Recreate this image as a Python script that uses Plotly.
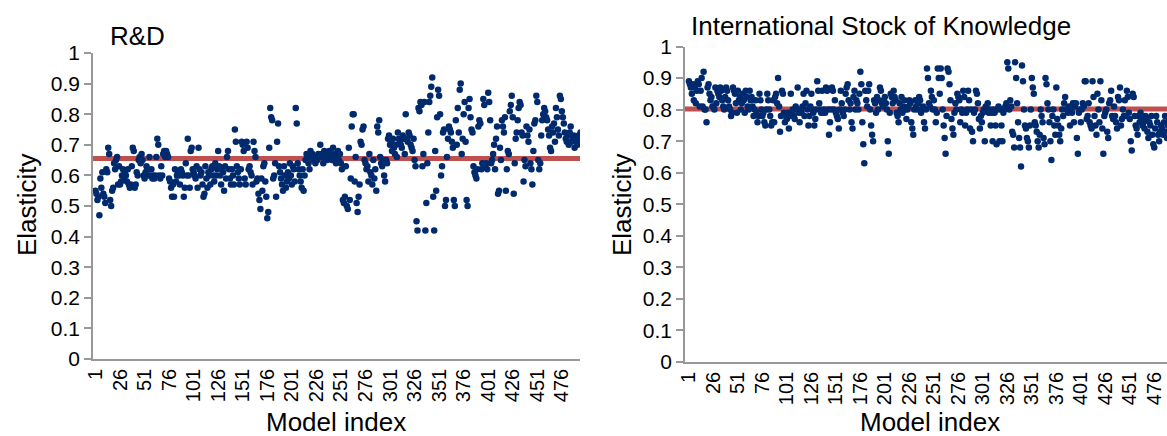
import plotly.graph_objects as go

# ---------------- data ----------------
rd_elasticity = [
    0.55, 0.54, 0.52, 0.53, 0.47, 0.59, 0.56, 0.61, 0.54, 0.53, 0.51, 0.62, 0.61, 0.69, 0.67, 0.52, 0.50, 0.55, 0.56, 0.64, 0.62, 0.65, 0.66, 0.57, 0.63,
    0.57, 0.58, 0.60, 0.62, 0.59, 0.61, 0.60, 0.58, 0.62, 0.57, 0.56, 0.57, 0.63, 0.69, 0.68, 0.56, 0.57, 0.61, 0.60, 0.65, 0.66, 0.64, 0.67, 0.65, 0.60,
    0.59, 0.61, 0.63, 0.62, 0.60, 0.66, 0.60, 0.62, 0.59, 0.60, 0.59, 0.60, 0.66, 0.72, 0.70, 0.60, 0.59, 0.63, 0.60, 0.67, 0.68, 0.66, 0.68, 0.67, 0.66,
    0.59, 0.58, 0.56, 0.53, 0.57, 0.53, 0.62, 0.58, 0.60, 0.61, 0.60, 0.57, 0.62, 0.61, 0.60, 0.53, 0.56, 0.64, 0.60, 0.72, 0.60, 0.56, 0.68, 0.69, 0.62,
    0.61, 0.60, 0.59, 0.63, 0.56, 0.69, 0.62, 0.60, 0.61, 0.57, 0.53, 0.54, 0.63, 0.59, 0.56, 0.61, 0.60, 0.57, 0.62, 0.63, 0.60, 0.58, 0.64, 0.60, 0.62,
    0.68, 0.63, 0.60, 0.57, 0.62, 0.61, 0.55, 0.63, 0.59, 0.66, 0.68, 0.62, 0.59, 0.57, 0.62, 0.60, 0.57, 0.75, 0.71, 0.63, 0.61, 0.59, 0.57, 0.62, 0.71,
    0.70, 0.68, 0.59, 0.57, 0.71, 0.69, 0.62, 0.63, 0.61, 0.60, 0.57, 0.71, 0.68, 0.66, 0.58, 0.59, 0.54, 0.52, 0.49, 0.59, 0.55, 0.63, 0.64, 0.58, 0.53,
    0.46, 0.48, 0.69, 0.82, 0.79, 0.78, 0.59, 0.60, 0.64, 0.53, 0.71, 0.77, 0.63, 0.61, 0.59, 0.57, 0.55, 0.63, 0.60, 0.56, 0.58, 0.61, 0.59, 0.64, 0.60,
    0.57, 0.63, 0.62, 0.58, 0.82, 0.77, 0.64, 0.62, 0.60, 0.58, 0.56, 0.62, 0.55, 0.60, 0.65, 0.67, 0.66, 0.64, 0.62, 0.68, 0.66, 0.67, 0.65, 0.66, 0.64,
    0.66, 0.65, 0.67, 0.66, 0.70, 0.67, 0.66, 0.64, 0.68, 0.66, 0.67, 0.65, 0.66, 0.68, 0.66, 0.67, 0.65, 0.69, 0.66, 0.67, 0.64, 0.66, 0.68, 0.65, 0.67,
    0.64, 0.62, 0.52, 0.51, 0.53, 0.63, 0.50, 0.49, 0.69, 0.52, 0.59, 0.76, 0.80, 0.80, 0.58, 0.66, 0.51, 0.48, 0.53, 0.57, 0.71, 0.70, 0.75, 0.76, 0.65,
    0.64, 0.62, 0.63, 0.58, 0.67, 0.61, 0.60, 0.57, 0.65, 0.59, 0.62, 0.55, 0.76, 0.74, 0.78, 0.66, 0.64, 0.63, 0.65, 0.60, 0.58, 0.65, 0.64, 0.72, 0.73,
    0.70, 0.71, 0.68, 0.72, 0.69, 0.67, 0.70, 0.66, 0.74, 0.72, 0.71, 0.70, 0.69, 0.73, 0.72, 0.67, 0.80, 0.72, 0.71, 0.74, 0.73, 0.70, 0.69, 0.68, 0.72,
    0.65, 0.63, 0.45, 0.42, 0.82, 0.81, 0.84, 0.83, 0.63, 0.67, 0.84, 0.42, 0.51, 0.64, 0.74, 0.84, 0.86, 0.89, 0.92, 0.53, 0.42, 0.68, 0.55, 0.79, 0.88,
    0.86, 0.80, 0.60, 0.63, 0.74, 0.75, 0.50, 0.52, 0.66, 0.72, 0.76, 0.75, 0.74, 0.71, 0.69, 0.52, 0.50, 0.78, 0.70, 0.82, 0.74, 0.88, 0.90, 0.67, 0.72,
    0.80, 0.84, 0.71, 0.52, 0.50, 0.82, 0.85, 0.79, 0.75, 0.74, 0.63, 0.61, 0.60, 0.59, 0.62, 0.76, 0.78, 0.77, 0.62, 0.64, 0.85, 0.83, 0.63, 0.64, 0.62,
    0.87, 0.84, 0.78, 0.64, 0.65, 0.67, 0.70, 0.62, 0.72, 0.76, 0.54, 0.55, 0.69, 0.65, 0.78, 0.76, 0.74, 0.79, 0.55, 0.62, 0.68, 0.67, 0.81, 0.83, 0.86,
    0.79, 0.54, 0.64, 0.72, 0.74, 0.78, 0.82, 0.84, 0.83, 0.74, 0.73, 0.58, 0.65, 0.63, 0.76, 0.73, 0.71, 0.75, 0.64, 0.62, 0.57, 0.68, 0.77, 0.78, 0.86,
    0.84, 0.65, 0.62, 0.64, 0.73, 0.78, 0.80, 0.82, 0.81, 0.79, 0.78, 0.75, 0.73, 0.69, 0.68, 0.76, 0.74, 0.77, 0.71, 0.82, 0.79, 0.75, 0.73, 0.86, 0.85,
    0.81, 0.79, 0.77, 0.74, 0.72, 0.71, 0.73, 0.70, 0.74, 0.76, 0.71, 0.72, 0.73, 0.69, 0.72, 0.71, 0.70, 0.73, 0.72, 0.74,
]

isk_elasticity = [
    0.89, 0.88, 0.87, 0.85, 0.88, 0.83, 0.87, 0.82, 0.86, 0.89, 0.88, 0.81, 0.86, 0.90, 0.81, 0.92, 0.80, 0.80, 0.76, 0.87, 0.88, 0.85, 0.83, 0.84, 0.81,
    0.81, 0.80, 0.87, 0.82, 0.86, 0.85, 0.84, 0.87, 0.86, 0.83, 0.81, 0.80, 0.84, 0.87, 0.86, 0.83, 0.81, 0.80, 0.78, 0.79, 0.87, 0.86, 0.85, 0.82, 0.79,
    0.86, 0.83, 0.84, 0.80, 0.82, 0.85, 0.83, 0.79, 0.86, 0.84, 0.81, 0.80, 0.86, 0.83, 0.84, 0.81, 0.78, 0.80, 0.83, 0.79, 0.76, 0.78, 0.85, 0.83, 0.80,
    0.78, 0.79, 0.76, 0.75, 0.80, 0.85, 0.83, 0.80, 0.78, 0.75, 0.76, 0.83, 0.76, 0.84, 0.85, 0.82, 0.90, 0.81, 0.73, 0.78, 0.86, 0.85, 0.79, 0.76, 0.78,
    0.77, 0.79, 0.74, 0.78, 0.85, 0.79, 0.80, 0.78, 0.77, 0.81, 0.80, 0.87, 0.79, 0.76, 0.80, 0.79, 0.81, 0.85, 0.78, 0.82, 0.86, 0.80, 0.75, 0.78, 0.81,
    0.85, 0.80, 0.79, 0.75, 0.77, 0.80, 0.89, 0.86, 0.82, 0.80, 0.79, 0.86, 0.79, 0.80, 0.79, 0.87, 0.86, 0.80, 0.72, 0.76, 0.80, 0.87, 0.86, 0.80, 0.83,
    0.79, 0.78, 0.77, 0.74, 0.80, 0.86, 0.82, 0.79, 0.78, 0.80, 0.85, 0.87, 0.88, 0.83, 0.80, 0.82, 0.76, 0.74, 0.84, 0.86, 0.80, 0.83, 0.82, 0.80, 0.85,
    0.92, 0.88, 0.76, 0.69, 0.63, 0.86, 0.83, 0.81, 0.86, 0.88, 0.80, 0.75, 0.72, 0.70, 0.83, 0.82, 0.79, 0.84, 0.80, 0.83, 0.87, 0.86, 0.82, 0.81, 0.83,
    0.84, 0.82, 0.80, 0.70, 0.66, 0.79, 0.85, 0.84, 0.82, 0.86, 0.84, 0.83, 0.79, 0.78, 0.76, 0.82, 0.80, 0.84, 0.79, 0.81, 0.83, 0.80, 0.77, 0.80, 0.81,
    0.83, 0.82, 0.76, 0.74, 0.72, 0.80, 0.83, 0.81, 0.80, 0.82, 0.84, 0.83, 0.79, 0.80, 0.81, 0.76, 0.74, 0.80, 0.93, 0.90, 0.82, 0.81, 0.86, 0.84, 0.80,
    0.83, 0.80, 0.76, 0.79, 0.93, 0.90, 0.85, 0.93, 0.90, 0.80, 0.75, 0.71, 0.66, 0.78, 0.93, 0.92, 0.88, 0.83, 0.77, 0.74, 0.72, 0.79, 0.82, 0.80, 0.85,
    0.84, 0.83, 0.76, 0.80, 0.79, 0.86, 0.84, 0.75, 0.79, 0.80, 0.86, 0.83, 0.74, 0.80, 0.73, 0.70, 0.79, 0.80, 0.86, 0.85, 0.82, 0.77, 0.74, 0.78, 0.76,
    0.79, 0.80, 0.70, 0.81, 0.80, 0.82, 0.79, 0.80, 0.75, 0.79, 0.70, 0.80, 0.79, 0.75, 0.69, 0.80, 0.81, 0.70, 0.80, 0.75, 0.70, 0.79, 0.80, 0.81, 0.82,
    0.95, 0.93, 0.80, 0.83, 0.81, 0.73, 0.72, 0.68, 0.95, 0.90, 0.82, 0.76, 0.71, 0.68, 0.62, 0.94, 0.89, 0.80, 0.75, 0.74, 0.71, 0.70, 0.68, 0.75, 0.80,
    0.90, 0.87, 0.85, 0.76, 0.75, 0.73, 0.70, 0.68, 0.72, 0.80, 0.78, 0.76, 0.71, 0.69, 0.90, 0.88, 0.82, 0.80, 0.76, 0.70, 0.64, 0.78, 0.80, 0.75, 0.72,
    0.87, 0.77, 0.75, 0.72, 0.70, 0.74, 0.80, 0.78, 0.82, 0.84, 0.80, 0.80, 0.79, 0.81, 0.75, 0.80, 0.79, 0.82, 0.76, 0.81, 0.82, 0.71, 0.66, 0.79, 0.80,
    0.76, 0.80, 0.82, 0.81, 0.89, 0.89, 0.77, 0.78, 0.82, 0.76, 0.75, 0.74, 0.89, 0.84, 0.78, 0.75, 0.72, 0.85, 0.80, 0.76, 0.89, 0.83, 0.74, 0.66, 0.78,
    0.79, 0.80, 0.73, 0.71, 0.82, 0.83, 0.86, 0.78, 0.77, 0.81, 0.78, 0.76, 0.74, 0.84, 0.83, 0.87, 0.75, 0.77, 0.80, 0.78, 0.83, 0.78, 0.86, 0.84, 0.79,
    0.77, 0.70, 0.67, 0.85, 0.84, 0.78, 0.75, 0.74, 0.72, 0.78, 0.76, 0.79, 0.77, 0.75, 0.76, 0.74, 0.78, 0.77, 0.73, 0.71, 0.76, 0.75, 0.78, 0.72, 0.69,
    0.68, 0.74, 0.78, 0.76, 0.72, 0.70, 0.73, 0.75, 0.74, 0.72, 0.76, 0.78, 0.73, 0.71, 0.75, 0.77, 0.74, 0.72, 0.76, 0.73,
]

rd_mean = 0.655
isk_mean = 0.802

model_index_rd = list(range(1, len(rd_elasticity) + 1))
model_index_isk = list(range(1, len(isk_elasticity) + 1))

x_tick_vals = list(range(1, 477, 25))
x_tick_text = [str(v) for v in x_tick_vals]
y_tick_vals = [0, 0.1, 0.2, 0.3, 0.4, 0.5, 0.6, 0.7, 0.8, 0.9, 1]
y_tick_text = ["0", "0.1", "0.2", "0.3", "0.4", "0.5", "0.6", "0.7", "0.8", "0.9", "1"]

panel_titles = ["R&D", "International Stock of Knowledge"]

# ---------------- figure ----------------
W, H = 1167, 436
FONT = "Liberation Sans, Arial, sans-serif"
MARKER = "#002A6E"
MEANC = "#C0504D"
AXC = "#989898"

fig = go.Figure()
fig.add_trace(go.Scatter(x=model_index_rd, y=rd_elasticity, mode="markers",
                         marker=dict(color=MARKER, size=6.5, line=dict(width=0)),
                         xaxis="x", yaxis="y", name="R&D", showlegend=False))
fig.add_trace(go.Scatter(x=model_index_isk, y=isk_elasticity, mode="markers",
                         marker=dict(color=MARKER, size=6.5, line=dict(width=0)),
                         xaxis="x2", yaxis="y2", name="ISK", showlegend=False))

fig.add_shape(type="line", xref="x domain", yref="y", x0=0, x1=1,
              y0=rd_mean, y1=rd_mean, line=dict(color=MEANC, width=5), layer="below")
fig.add_shape(type="line", xref="x2 domain", yref="y2", x0=0, x1=1,
              y0=isk_mean, y1=isk_mean, line=dict(color=MEANC, width=5), layer="below")

xcommon = dict(tickvals=x_tick_vals, ticktext=x_tick_text, tickangle=-90,
               showline=True, linecolor=AXC, linewidth=1.5, ticks="",
               showgrid=False, zeroline=False, automargin=False,
               ticklabeloverflow="allow",
               tickfont=dict(family=FONT, size=20, color="#000000"))
ycommon = dict(range=[0, 1], tickvals=y_tick_vals, ticktext=y_tick_text,
               showline=True, linecolor=AXC, linewidth=1.5, ticks="outside",
               ticklen=7, tickcolor=AXC, tickwidth=1.5,
               showgrid=False, zeroline=False, automargin=False,
               tickfont=dict(family=FONT, size=21, color="#000000"))

fig.update_layout(
    width=W, height=H,
    margin=dict(l=0, r=0, t=0, b=0, pad=0, autoexpand=False),
    paper_bgcolor="white", plot_bgcolor="white",
    showlegend=False,
    xaxis=dict(domain=[93 / W, 580 / W], range=[-1.5, 494.5], anchor="y", **xcommon),
    yaxis=dict(domain=[(H - 359) / H, (H - 53) / H], anchor="x", **ycommon),
    xaxis2=dict(domain=[685 / W, 1.0], range=[-3, 489], anchor="y2", **xcommon),
    yaxis2=dict(domain=[(H - 362) / H, (H - 46.5) / H], anchor="x2", **ycommon),
)

ann_font_title = dict(family=FONT, size=26, color="#000000")
ann_font_axis = dict(family=FONT, size=26, color="#000000")
fig.add_annotation(text=panel_titles[0], xref="paper", yref="paper",
                   x=108 / W, y=(H - 36) / H, xanchor="left", yanchor="middle",
                   showarrow=False, font=ann_font_title)
fig.add_annotation(text=panel_titles[1], xref="paper", yref="paper",
                   x=689 / W, y=(H - 26) / H, xanchor="left", yanchor="middle",
                   showarrow=False, font=ann_font_title)
for xc, yc in [(27, 205), (622, 205)]:
    fig.add_annotation(text="Elasticity", xref="paper", yref="paper",
                       x=xc / W, y=(H - yc) / H, xanchor="center", yanchor="middle",
                       textangle=-90, showarrow=False, font=ann_font_axis)
for xc in [336, 930]:
    fig.add_annotation(text="Model index", xref="paper", yref="paper",
                       x=xc / W, y=(H - 422) / H, xanchor="center", yanchor="middle",
                       showarrow=False, font=ann_font_axis)

fig.write_html("out.html")
